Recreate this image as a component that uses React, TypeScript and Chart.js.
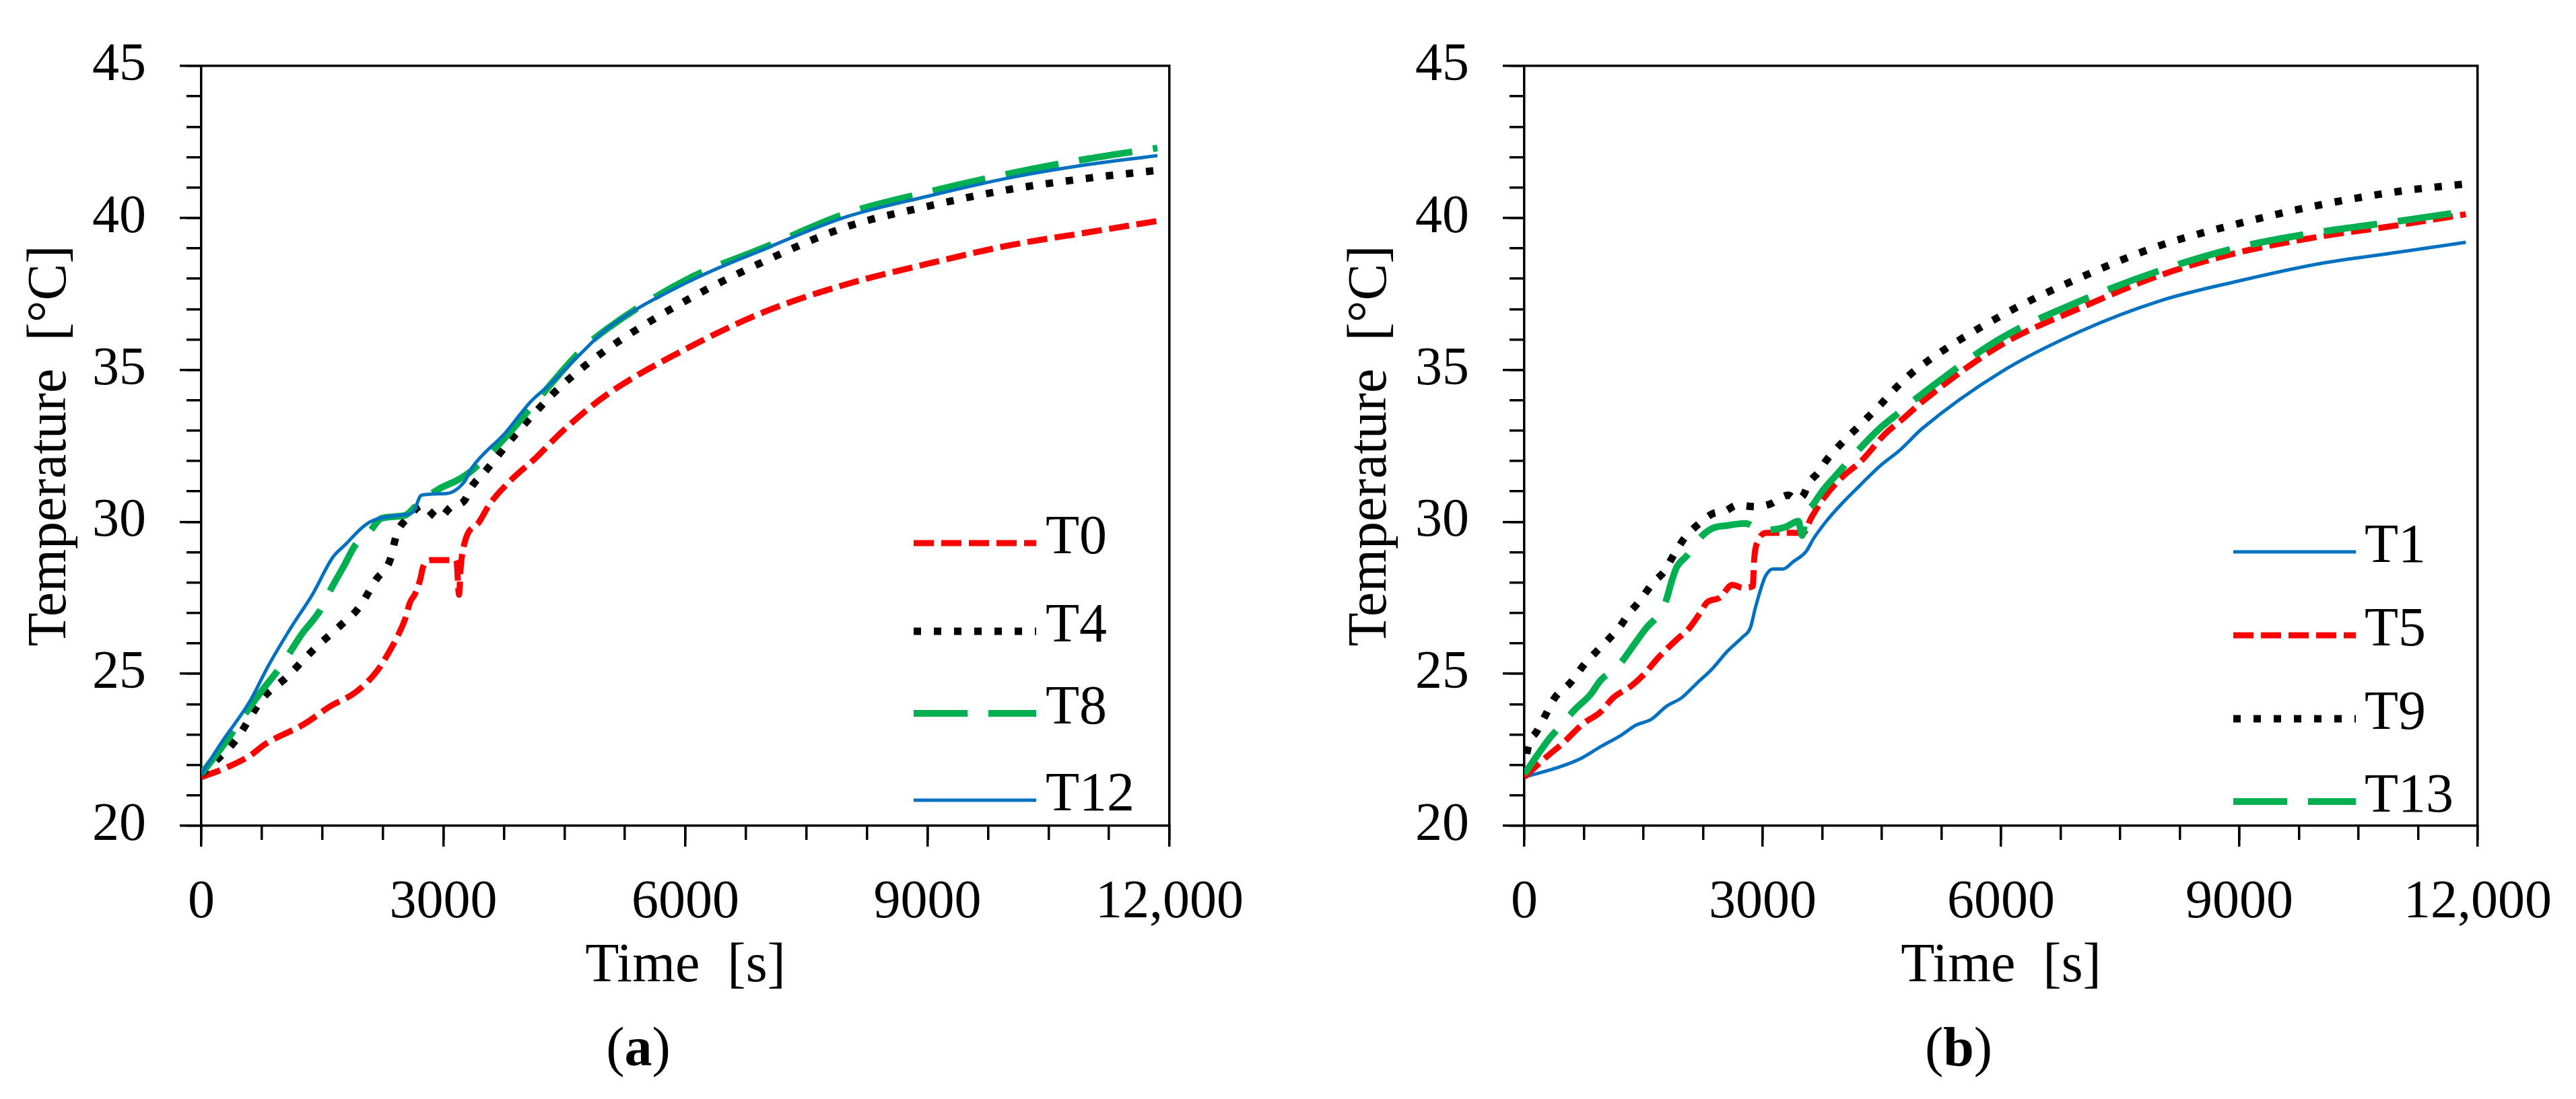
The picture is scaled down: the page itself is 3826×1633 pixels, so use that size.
import React, { useEffect, useRef } from 'react';
import { Chart, registerables } from 'chart.js';

Chart.register(...registerables);

const FONT = '"Liberation Serif", "Times New Roman", serif';

// ---------- axis ticks ----------
const xTickValues = [0, 3000, 6000, 9000, 12000];
const xTickLabels = ['0', '3000', '6000', '9000', '12,000'];
const xMinorStep = 750;
const yTickValues = [20, 25, 30, 35, 40, 45];
const yTickLabels = ['20', '25', '30', '35', '40', '45'];
const yMinorStep = 1;

// ---------- panel (a) ----------
const aLabels = ['T0', 'T4', 'T8', 'T12'];

const t0Time = [0, 300, 600, 800, 1278, 1597, 1916, 2172, 2332, 2427, 2523, 2587, 2651, 2715, 2747, 2843, 3162, 3194, 3215, 3258, 3450, 3577, 3833, 4152, 4472, 5008, 6000, 7000, 8000, 9000, 10000, 11000, 11850];
const t0Temp = [21.6, 21.9, 22.3, 22.7, 23.35, 23.93, 24.4, 25.07, 25.74, 26.21, 26.78, 27.35, 27.64, 28.12, 28.5, 28.74, 28.74, 27.6, 28.5, 29.26, 30.02, 30.59, 31.36, 32.12, 32.97, 34.15, 35.68, 36.93, 37.82, 38.49, 39.09, 39.53, 39.9];

const t4Time = [0, 415, 767, 1054, 1405, 1725, 1948, 2172, 2332, 2427, 2555, 2747, 2811, 2938, 3098, 3258, 3354, 3513, 3833, 4152, 4472, 5008, 6000, 7000, 8000, 9000, 10000, 11000, 11800];
const t4Temp = [21.7, 22.78, 24.21, 24.88, 25.83, 26.59, 27.16, 28.12, 28.69, 29.64, 30.12, 30.55, 30.4, 30.12, 30.5, 30.69, 31.17, 31.64, 32.69, 33.64, 34.5, 35.64, 37.27, 38.6, 39.71, 40.38, 40.93, 41.31, 41.55];

const t8Time = [0, 287, 559, 767, 990, 1246, 1469, 1597, 1757, 1916, 2076, 2236, 2523, 2683, 2938, 3194, 3354, 3769, 4152, 4727, 5008, 6000, 7000, 8000, 9000, 10000, 11000, 11850];
const t8Temp = [21.7, 22.7, 23.74, 24.5, 25.26, 26.31, 27.07, 27.74, 28.5, 29.26, 29.64, 30.12, 30.21, 30.59, 31.07, 31.4, 31.69, 32.78, 33.97, 35.69, 36.31, 37.95, 39.05, 40.15, 40.85, 41.45, 41.95, 42.3];

const t12Time = [0, 240, 607, 830, 1118, 1373, 1629, 1789, 1980, 2108, 2428, 2619, 2731, 3034, 3258, 3354, 3769, 4088, 4312, 4727, 5008, 6000, 7000, 8000, 9000, 10000, 11000, 11850];
const t12Temp = [21.7, 22.7, 24.12, 25.26, 26.55, 27.59, 28.83, 29.26, 29.78, 30.02, 30.21, 30.31, 30.88, 30.93, 31.31, 31.78, 32.93, 33.97, 34.5, 35.6, 36.31, 37.85, 39.0, 40.04, 40.71, 41.31, 41.76, 42.05];

// ---------- panel (b) ----------
const bLabels = ['T1', 'T5', 'T9', 'T13'];

const t1Time = [0, 400, 700, 958, 1214, 1405, 1597, 1789, 1980, 2172, 2364, 2555, 2747, 2843, 2907, 2970, 3034, 3130, 3258, 3386, 3545, 3641, 3801, 3993, 4248, 4472, 4727, 5008, 6000, 7000, 8000, 9000, 10000, 11000, 11850];
const t1Temp = [21.6, 21.9, 22.2, 22.6, 22.97, 23.31, 23.5, 23.93, 24.21, 24.69, 25.16, 25.74, 26.21, 26.5, 27.16, 27.74, 28.21, 28.45, 28.45, 28.69, 29.02, 29.45, 30.02, 30.59, 31.26, 31.83, 32.36, 33.07, 34.93, 36.27, 37.27, 37.93, 38.49, 38.87, 39.2];

const t5Time = [0, 250, 511, 735, 958, 1118, 1341, 1501, 1693, 1916, 2076, 2204, 2300, 2459, 2619, 2747, 2875, 2895, 2938, 3066, 3354, 3513, 3609, 3769, 3993, 4248, 4536, 4791, 5008, 6000, 7000, 8000, 9000, 10000, 11000, 11850];
const t5Temp = [21.6, 22.2, 22.78, 23.35, 23.74, 24.21, 24.59, 24.97, 25.55, 26.12, 26.5, 26.97, 27.35, 27.5, 27.93, 27.83, 27.88, 28.83, 29.35, 29.64, 29.64, 29.64, 30.12, 30.78, 31.45, 32.02, 32.88, 33.45, 33.95, 35.82, 37.04, 38.11, 38.87, 39.38, 39.76, 40.12];

const t9Time = [0, 40, 160, 256, 383, 575, 767, 926, 1054, 1214, 1310, 1437, 1629, 1773, 1852, 2012, 2172, 2364, 2523, 2683, 2907, 3098, 3322, 3418, 3513, 3577, 3705, 3801, 3961, 4216, 4472, 4727, 4951, 6000, 7000, 8000, 9000, 10000, 11000, 11850];
const t9Temp = [21.7, 22.5, 23.12, 23.59, 24.21, 24.69, 25.35, 25.78, 26.12, 26.59, 26.97, 27.35, 28.02, 28.4, 28.78, 29.45, 29.88, 30.26, 30.35, 30.55, 30.5, 30.59, 30.88, 30.74, 30.88, 31.26, 31.64, 32.02, 32.5, 33.16, 33.83, 34.54, 35.05, 36.78, 38.04, 39.09, 39.82, 40.42, 40.87, 41.12];

const t13Time = [0, 319, 447, 639, 830, 958, 1182, 1373, 1533, 1725, 1789, 1852, 1916, 2044, 2204, 2364, 2555, 2779, 2938, 3098, 3290, 3449, 3497, 3545, 3641, 3769, 3961, 4152, 4472, 4695, 5008, 6000, 7000, 8000, 9000, 10000, 11000, 11850];
const t13Temp = [21.7, 22.88, 23.26, 23.83, 24.31, 24.78, 25.26, 25.93, 26.5, 27.07, 27.45, 28.02, 28.5, 28.88, 29.45, 29.78, 29.88, 29.95, 29.78, 29.74, 29.83, 30.02, 29.55, 30.21, 30.59, 31.07, 31.64, 32.21, 33.07, 33.55, 34.21, 36.04, 37.27, 38.27, 39.04, 39.53, 39.89, 40.22];

// ---------- styles ----------
const RED = { color: '#FF0000', width: 9, dash: [30, 11] };
const BLACK = { color: '#000000', width: 11, dash: [11, 19] };
const GREEN = { color: '#00B050', width: 10, dash: [80, 31] };
const BLUE = { color: '#0070C0', width: 5, dash: [] as number[] };

type Series = { label: string; t: number[]; v: number[]; style: { color: string; width: number; dash: number[] } };

const panelA: Series[] = [
  { label: aLabels[0], t: t0Time, v: t0Temp, style: RED },
  { label: aLabels[1], t: t4Time, v: t4Temp, style: BLACK },
  { label: aLabels[2], t: t8Time, v: t8Temp, style: GREEN },
  { label: aLabels[3], t: t12Time, v: t12Temp, style: BLUE },
];

const panelB: Series[] = [
  { label: bLabels[0], t: t1Time, v: t1Temp, style: BLUE },
  { label: bLabels[1], t: t5Time, v: t5Temp, style: RED },
  { label: bLabels[2], t: t9Time, v: t9Temp, style: BLACK },
  { label: bLabels[3], t: t13Time, v: t13Temp, style: GREEN },
];

// ---------- legend plugin ----------
const lineLegend = {
  id: 'lineLegend',
  afterDraw(chart: any, _args: any, opts: any) {
    const { ctx, chartArea } = chart;
    const x0 = chartArea.left + opts.x;
    chart.data.datasets.forEach((ds: any, i: number) => {
      const y = chartArea.top + opts.rows[i];
      ctx.save();
      ctx.strokeStyle = ds.borderColor;
      ctx.lineWidth = ds.borderWidth;
      ctx.lineCap = 'butt';
      ctx.setLineDash(ds.borderDash || []);
      ctx.beginPath();
      ctx.moveTo(x0, y);
      ctx.lineTo(x0 + opts.length, y);
      ctx.stroke();
      ctx.setLineDash([]);
      ctx.fillStyle = '#000';
      ctx.font = `${opts.fontSize}px ${FONT}`;
      ctx.textAlign = 'left';
      ctx.textBaseline = 'middle';
      ctx.fillText(ds.label, x0 + opts.length + opts.gap, y + opts.textDy);
      ctx.restore();
    });
  },
};

const range = (a: number, b: number, s: number) => {
  const out: { value: number }[] = [];
  for (let v = a; v <= b + 1e-9; v += s) out.push({ value: v });
  return out;
};

type PanelLayout = {
  yAxisWidth: number;
  padRight: number;
  yTitlePad: number;
  legend: { x: number; rows: number[]; length: number; gap: number; fontSize: number; textDy: number };
};

function buildConfig(series: Series[], lay: PanelLayout): any {
  const tickFont = { family: FONT, size: 80 };
  const titleFont = { family: FONT, size: 82 };
  const axisColor = '#000';
  const lw = 3.5;
  return {
    type: 'line',
    data: {
      datasets: series.map((s, i, arr) => ({
        label: s.label,
        data: s.t.map((t, k) => ({ x: t, y: s.v[k] })),
        borderColor: s.style.color,
        backgroundColor: s.style.color,
        borderWidth: s.style.width,
        borderDash: s.style.dash,
        borderCapStyle: 'butt',
        borderJoinStyle: 'round',
        pointRadius: 0,
        pointHoverRadius: 0,
        fill: false,
        cubicInterpolationMode: 'monotone',
        order: arr.length - i,
      })),
    },
    options: {
      animation: false,
      responsive: false,
      maintainAspectRatio: false,
      events: [],
      layout: { padding: { left: 0, top: 55, right: lay.padRight, bottom: 0 } },
      plugins: {
        legend: { display: false },
        tooltip: { enabled: false },
        title: { display: false },
        lineLegend: lay.legend,
      },
      scales: {
        x: {
          type: 'linear',
          position: 'bottom',
          min: 0,
          max: 12000,
          weight: 1,
          afterFit: (s: any) => { s.height = 406; },
          afterBuildTicks: (s: any) => { s.ticks = xTickValues.map((v) => ({ value: v })); },
          ticks: {
            autoSkip: false,
            maxRotation: 0,
            font: tickFont,
            color: '#000',
            padding: 36,
            callback: (v: number) => xTickLabels[xTickValues.indexOf(v)] ?? '',
          },
          grid: { display: true, drawOnChartArea: false, drawTicks: true, tickLength: 31, lineWidth: lw, color: axisColor },
          border: { display: true, width: lw, color: axisColor },
          title: { display: true, text: 'Time  [s]', font: titleFont, color: '#000', padding: { top: 0, bottom: 147 } },
        },
        xMinor: {
          type: 'linear',
          position: 'bottom',
          min: 0,
          max: 12000,
          weight: 0,
          afterFit: (s: any) => { s.height = 0; },
          afterBuildTicks: (s: any) => { s.ticks = range(0, 12000, xMinorStep); },
          ticks: { display: false },
          grid: { display: true, drawOnChartArea: false, drawTicks: true, tickLength: 21, lineWidth: lw, color: axisColor },
          border: { display: false },
        },
        xTop: {
          type: 'linear',
          position: 'top',
          min: 0,
          max: 12000,
          afterFit: (s: any) => { s.height = 0; },
          ticks: { display: false },
          grid: { display: false },
          border: { display: true, width: lw, color: axisColor },
        },
        y: {
          type: 'linear',
          position: 'left',
          min: 20,
          max: 45,
          weight: 1,
          afterFit: (s: any) => { s.width = lay.yAxisWidth; },
          afterBuildTicks: (s: any) => { s.ticks = yTickValues.map((v) => ({ value: v })); },
          ticks: {
            autoSkip: false,
            font: tickFont,
            color: '#000',
            padding: 50,
            callback: (v: number) => yTickLabels[yTickValues.indexOf(v)] ?? '',
          },
          grid: { display: true, drawOnChartArea: false, drawTicks: true, tickLength: 32, lineWidth: lw, color: axisColor },
          border: { display: true, width: lw, color: axisColor },
          title: { display: true, text: 'Temperature  [°C]', font: titleFont, color: '#000', padding: { top: lay.yTitlePad, bottom: 0 } },
        },
        yMinor: {
          type: 'linear',
          position: 'left',
          min: 20,
          max: 45,
          weight: 0,
          afterFit: (s: any) => { s.width = 0; },
          afterBuildTicks: (s: any) => { s.ticks = range(20, 45, yMinorStep); },
          ticks: { display: false },
          grid: { display: true, drawOnChartArea: false, drawTicks: true, tickLength: 22, lineWidth: lw, color: axisColor },
          border: { display: false },
        },
        yRight: {
          type: 'linear',
          position: 'right',
          min: 20,
          max: 45,
          afterFit: (s: any) => { s.width = 0; },
          ticks: { display: false },
          grid: { display: false },
          border: { display: true, width: lw, color: axisColor },
        },
      },
    },
    plugins: [lineLegend],
  };
}

const layoutA: PanelLayout = {
  yAxisWidth: 299,
  padRight: 163,
  yTitlePad: 26,
  legend: { x: 1058, rows: [709, 840, 962, 1091], length: 182, gap: 14, fontSize: 82, textDy: -7 },
};

const layoutB: PanelLayout = {
  yAxisWidth: 364,
  padRight: 124,
  yTitlePad: 87,
  legend: { x: 1053, rows: [722, 846, 970, 1093], length: 182, gap: 13, fontSize: 82, textDy: -7 },
};

function Panel({ series, lay, left, width }: { series: Series[]; lay: PanelLayout; left: number; width: number }) {
  const ref = useRef<HTMLCanvasElement | null>(null);
  useEffect(() => {
    let chart: Chart | null = null;
    let cancelled = false;
    const make = () => {
      if (cancelled || !ref.current) return;
      chart = new Chart(ref.current, buildConfig(series, lay));
    };
    const fonts = (document as any).fonts;
    if (fonts && fonts.load) {
      Promise.all([
        fonts.load('80px "Liberation Serif"'),
        fonts.load('bold 80px "Liberation Serif"'),
      ]).then(make, make);
    } else {
      make();
    }
    return () => {
      cancelled = true;
      if (chart) chart.destroy();
    };
  }, [series, lay]);
  return (
    <canvas
      ref={ref}
      width={width}
      height={1633}
      style={{ position: 'absolute', left, top: 0, width, height: 1633, display: 'block' }}
    />
  );
}

function Caption({ cx, letter }: { cx: number; letter: string }) {
  return (
    <div
      style={{
        position: 'absolute',
        left: cx - 150,
        top: 1515,
        width: 300,
        textAlign: 'center',
        fontFamily: FONT,
        fontSize: 82,
        lineHeight: '82px',
        color: '#000',
      }}
    >
      (<b>{letter}</b>)
    </div>
  );
}

export default function App() {
  return (
    <div style={{ position: 'fixed', left: 0, top: 0, width: 3826, height: 1633, background: '#fff', overflow: 'hidden' }}>
      <Panel series={panelA} lay={layoutA} left={0} width={1900} />
      <Panel series={panelB} lay={layoutB} left={1900} width={1926} />
      <Caption cx={948} letter="a" />
      <Caption cx={2909} letter="b" />
    </div>
  );
}
